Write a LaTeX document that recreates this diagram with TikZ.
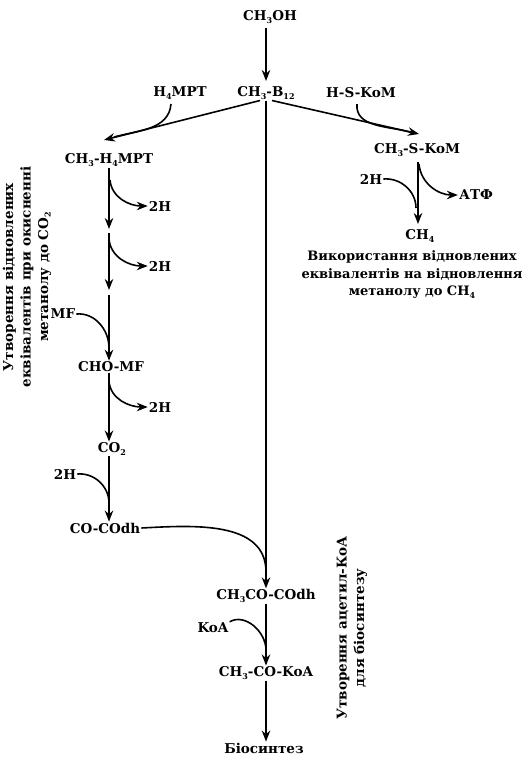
\documentclass[tikz,border=0pt]{standalone}
\usepackage{fontspec}
\setmainfont{DejaVu Serif}
\usetikzlibrary{arrows.meta}
\newcommand{\subs}[1]{\raisebox{-2.5pt}{\fontsize{8}{8}\selectfont #1}}
\tikzset{
    lbl/.style={inner sep=1pt, font=\fontsize{13.5}{17}\selectfont\bfseries},
    txt/.style={inner sep=1pt, align=center, font=\fontsize{13.5}{17.5}\selectfont\bfseries},
    arr/.style={-{Stealth[length=11pt,width=8.5pt]}, line width=1.6pt},
    ln/.style={line width=1.6pt}
}
\begin{document}
\begin{tikzpicture}[x=1pt,y=1pt]
            \useasboundingbox (0,0) rectangle (524,-758);
            \node[lbl] (ch3oh) at (270,-17) {CH\subs{3}OH};
            \node[lbl] (b12) at (266,-93) {CH\subs{3}-B\subs{12}};
            \node[lbl] (h4mpt) at (180,-93) {H\subs{4}MPT};
            \node[lbl] (hskom) at (361,-93) {H-S-KoM};
            \node[lbl] (mpt) at (109,-160) {CH\subs{3}-H\subs{4}MPT};
            \node[lbl] (skom) at (417,-150) {CH\subs{3}-S-KoM};
            \node[lbl] (h5) at (371,-179) {2H};
            \node[lbl] (atf) at (476,-195) {АТФ};
            \node[lbl] (ch4) at (420,-236) {CH\subs{4}};
            \node[txt, font=\fontsize{13}{17.5}\selectfont\bfseries] (use) at (412,-275) {Використання відновлених\\еквівалентів на відновлення\\метанолу до CH\subs{4}};
            \node[lbl] (h1) at (160,-206) {2H};
            \node[lbl] (h2) at (160,-266) {2H};
            \node[lbl] (mf) at (63,-314) {MF};
            \node[lbl] (chomf) at (111,-367) {CHO-MF};
            \node[lbl] (h3) at (160,-407) {2H};
            \node[lbl] (co2) at (112,-449) {CO\subs{2}};
            \node[lbl] (h4) at (65,-474) {2H};
            \node[lbl] (codh) at (105,-528) {CO-COdh};
            \node[lbl] (acdh) at (266,-596) {CH\subs{3}CO-COdh};
            \node[lbl] (koa) at (213,-628) {KoA};
            \node[lbl] (ackoa) at (266,-673) {CH\subs{3}-CO-KoA};
            \node[lbl] (bio) at (264,-748) {Біосинтез};
            \node[txt, rotate=90] (oxid) at (27,-277) {Утворення відновлених\\еквівалентів при окисненні\\метанолу до CO\subs{2}};
            \node[txt, rotate=90] (acet) at (352,-628) {Утворення ацетил-КоА\\для біосинтезу};
            \coordinate (p1) at (109,-229);
            \coordinate (p2) at (109,-290);
            \coordinate (j1) at (266,-572);
            \draw[arr] (266,-28) -- (266,-81);
            \draw[arr] ([xshift=-6pt]b12.south) -- (104,-140);
            \draw[ln] (171,-104) to[out=-95,in=15] (114,-137);
            \draw[arr] ([xshift=6pt]b12.south) -- (419,-134);
            \draw[ln] (357,-104) to[out=-95,in=165] (410,-132);
            \draw[arr] (b12.south) -- (acdh.north);
            \draw[ln] (codh.east) to[out=3,in=90] (j1);
            \draw[arr] (mpt.south) -- (p1);
            \draw[arr] ([yshift=-4pt]p1) -- (p2);
            \draw[arr] ([yshift=-5pt]p2) -- (chomf.north -| p1);
            \draw[arr] (chomf.south -| p1) -- (co2.north -| p1);
            \draw[arr] (co2.south -| p1) -- (codh.north -| p1);
            \draw[arr] (110,-180) to[out=-85,in=180] (h1.west);
            \draw[arr] ([yshift=-10pt]p1) to[out=-85,in=180] (h2.west);
            \draw[arr] ([yshift=-8pt]chomf.south -| p1) to[out=-85,in=180] (h3.west);
            \draw[ln] (mf.east) to[out=5,in=90] (109,-348);
            \draw[ln] (h4.east) to[out=5,in=90] (109,-503);
            \draw[arr] (418,-162) -- (418,-224);
            \draw[ln] (h5.east) to[out=5,in=90] (416,-208);
            \draw[arr] (419,-164) to[out=-85,in=180] (atf.west);
            \draw[arr] (acdh.south) -- (ackoa.north);
            \draw[ln] (koa.north east) to[out=30,in=90] (266,-650);
            \draw[arr] (ackoa.south) -- (ackoa.south |- bio.north);
        \end{tikzpicture}
\end{document}
